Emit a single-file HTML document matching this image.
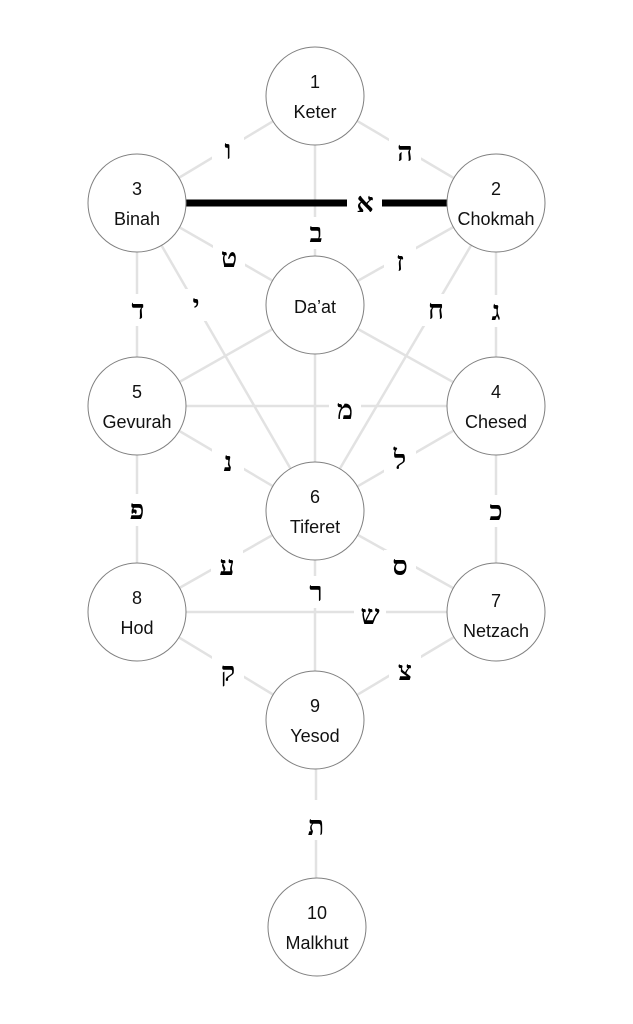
<!DOCTYPE html>
<html><head><meta charset="utf-8"><style>
html,body{margin:0;padding:0;background:#fff;}
svg{display:block}
.l{stroke:#e2e2e2;stroke-width:2.5;fill:none}
.c{fill:#fff;stroke:#808080;stroke-width:1}
.t{font-family:"Liberation Sans",sans-serif;font-size:18px;fill:#111;text-anchor:middle}
.h{font-family:"Liberation Serif","DejaVu Sans",serif;font-size:27px;font-weight:bold;fill:#000;text-anchor:middle;dominant-baseline:central}
</style></head><body>
<svg width="633" height="1024" viewBox="0 0 633 1024" xmlns="http://www.w3.org/2000/svg">
<g class="l">
<line x1="315" y1="96" x2="137" y2="203"/>
<line x1="315" y1="96" x2="496" y2="203"/>
<line x1="315" y1="96" x2="315" y2="305"/>
<line x1="137" y1="203" x2="315" y2="305"/>
<line x1="496" y1="203" x2="315" y2="305"/>
<line x1="137" y1="203" x2="137" y2="406"/>
<line x1="496" y1="203" x2="496" y2="406"/>
<line x1="137" y1="203" x2="315" y2="511"/>
<line x1="496" y1="203" x2="315" y2="511"/>
<line x1="315" y1="305" x2="137" y2="406"/>
<line x1="315" y1="305" x2="496" y2="406"/>
<line x1="315" y1="305" x2="315" y2="720"/>
<line x1="137" y1="406" x2="496" y2="406"/>
<line x1="137" y1="406" x2="315" y2="511"/>
<line x1="496" y1="406" x2="315" y2="511"/>
<line x1="137" y1="406" x2="137" y2="612"/>
<line x1="496" y1="406" x2="496" y2="612"/>
<line x1="315" y1="511" x2="137" y2="612"/>
<line x1="315" y1="511" x2="496" y2="612"/>
<line x1="137" y1="612" x2="496" y2="612"/>
<line x1="137" y1="612" x2="315" y2="720"/>
<line x1="496" y1="612" x2="315" y2="720"/>
<line x1="316" y1="720" x2="316" y2="927"/>
</g>
<line x1="137" y1="203" x2="496" y2="203" stroke="#000" stroke-width="7"/>
<g fill="#fff">
<rect x="212" y="134" width="32" height="32"/>
<rect x="389" y="136" width="32" height="32"/>
<rect x="347" y="187" width="35" height="32"/>
<rect x="300" y="217" width="32" height="32"/>
<rect x="213" y="242" width="32" height="32"/>
<rect x="384" y="246" width="32" height="32"/>
<rect x="122" y="294" width="32" height="32"/>
<rect x="180" y="289" width="32" height="32"/>
<rect x="420" y="294" width="32" height="32"/>
<rect x="480" y="295" width="32" height="32"/>
<rect x="329" y="394" width="32" height="32"/>
<rect x="212" y="446" width="32" height="32"/>
<rect x="384" y="444" width="32" height="32"/>
<rect x="121" y="494" width="32" height="32"/>
<rect x="480" y="495" width="32" height="32"/>
<rect x="211" y="550" width="32" height="32"/>
<rect x="384" y="550" width="32" height="32"/>
<rect x="300" y="576" width="32" height="32"/>
<rect x="354" y="599" width="32" height="32"/>
<rect x="212" y="656" width="32" height="32"/>
<rect x="389" y="655" width="32" height="32"/>
<rect x="300" y="800" width="32" height="40"/>
</g>
<g class="h">
<text x="228" y="150">ו</text>
<text x="405" y="152">ה</text>
<text x="365" y="203">א</text>
<text x="316" y="233">ב</text>
<text x="229" y="258">ט</text>
<text x="400" y="262">ז</text>
<text x="138" y="310">ד</text>
<text x="196" y="305">י</text>
<text x="436" y="310">ח</text>
<text x="496" y="311">ג</text>
<text x="345" y="410">מ</text>
<text x="228" y="462">נ</text>
<text x="400" y="460">ל</text>
<text x="137" y="510">פ</text>
<text x="496" y="511">כ</text>
<text x="227" y="566">ע</text>
<text x="400" y="566">ס</text>
<text x="316" y="592">ר</text>
<text x="370" y="615">ש</text>
<text x="228" y="672">ק</text>
<text x="405" y="671">צ</text>
<text x="316" y="826">ת</text>
</g>
<g>
<circle class="c" cx="315" cy="96" r="49"/>
<circle class="c" cx="137" cy="203" r="49"/>
<circle class="c" cx="496" cy="203" r="49"/>
<circle class="c" cx="315" cy="305" r="49"/>
<circle class="c" cx="137" cy="406" r="49"/>
<circle class="c" cx="496" cy="406" r="49"/>
<circle class="c" cx="315" cy="511" r="49"/>
<circle class="c" cx="137" cy="612" r="49"/>
<circle class="c" cx="496" cy="612" r="49"/>
<circle class="c" cx="315" cy="720" r="49"/>
<circle class="c" cx="317" cy="927" r="49"/>
</g>
<g class="t">
<text x="315" y="88">1</text><text x="315" y="118">Keter</text>
<text x="137" y="195">3</text><text x="137" y="225">Binah</text>
<text x="496" y="195">2</text><text x="496" y="225">Chokmah</text>
<text x="315" y="313">Da’at</text>
<text x="137" y="398">5</text><text x="137" y="428">Gevurah</text>
<text x="496" y="398">4</text><text x="496" y="428">Chesed</text>
<text x="315" y="503">6</text><text x="315" y="533">Tiferet</text>
<text x="137" y="604">8</text><text x="137" y="634">Hod</text>
<text x="496" y="607">7</text><text x="496" y="637">Netzach</text>
<text x="315" y="712">9</text><text x="315" y="742">Yesod</text>
<text x="317" y="919">10</text><text x="317" y="949">Malkhut</text>
</g>
</svg>
</body></html>
